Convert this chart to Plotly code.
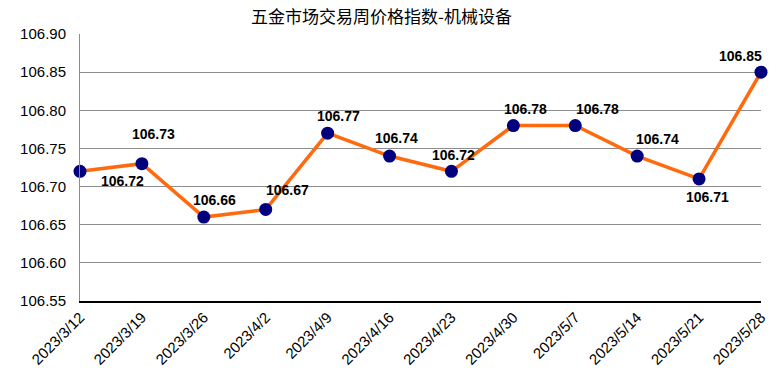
import plotly.graph_objects as go

categories = ["2023/3/12", "2023/3/19", "2023/3/26", "2023/4/2", "2023/4/9", "2023/4/16",
              "2023/4/23", "2023/4/30", "2023/5/7", "2023/5/14", "2023/5/21", "2023/5/28"]
values = [106.72, 106.73, 106.66, 106.67, 106.77, 106.74, 106.72, 106.78, 106.78, 106.74, 106.71, 106.85]
tick_vals = [106.55, 106.60, 106.65, 106.70, 106.75, 106.80, 106.85, 106.90]
tick_text = ["106.55", "106.60", "106.65", "106.70", "106.75", "106.80", "106.85", "106.90"]
title = "五金市场交易周价格指数-机械设备"

# label offsets (pixels) relative to each point
label_dx = [42, 12, 11, 22, 11, 7, 2, 12, 22, 20, 8, -21]
label_dy = [-10, 30, 17, 19, 17, 18, 16, 17, 17, 17, -18, 16]

fig = go.Figure()
fig.add_trace(go.Scatter(
    x=categories, y=values, mode="lines+markers",
    line=dict(color="#FF6A0E", width=3.5),
    marker=dict(color="#00007F", size=13),
    cliponaxis=False, showlegend=False, hoverinfo="skip"))

for c, v, dx, dy in zip(categories, values, label_dx, label_dy):
    fig.add_annotation(x=c, y=v, text=f"{v:.2f}", showarrow=False,
                       xshift=dx, yshift=dy,
                       font=dict(family="Liberation Sans, Arial", size=14, color="#000000", weight="bold"))

# chart title as a paper-anchored annotation
fig.add_annotation(xref="paper", yref="paper", x=0.442, y=1.0, yshift=19,
                   xanchor="center", yanchor="middle", showarrow=False, text=title,
                   font=dict(family="Noto Sans CJK SC", size=17, color="#000000"))

fig.update_layout(
    width=772, height=384,
    margin=dict(l=70, r=13, t=26, b=91),
    paper_bgcolor="white", plot_bgcolor="white",
    font=dict(family="Liberation Sans, Arial", color="#000000"),
)
fig.update_xaxes(
    type="category", range=[0, len(categories) - 1],
    tickangle=-45, tickfont=dict(size=15, family="Liberation Sans, Arial"),
    showgrid=False, showline=True, linecolor="#000000", linewidth=1.5,
    ticks="", zeroline=False)
fig.update_yaxes(
    range=[106.55, 106.90], tickvals=tick_vals, ticktext=tick_text,
    tickfont=dict(size=15, family="Liberation Sans, Arial"),
    showgrid=True, gridcolor="#8C8C8C", gridwidth=1,
    showline=True, linecolor="#8C8C8C", linewidth=1,
    ticks="", ticklabelstandoff=10, zeroline=False)

fig.write_html("out.html")
